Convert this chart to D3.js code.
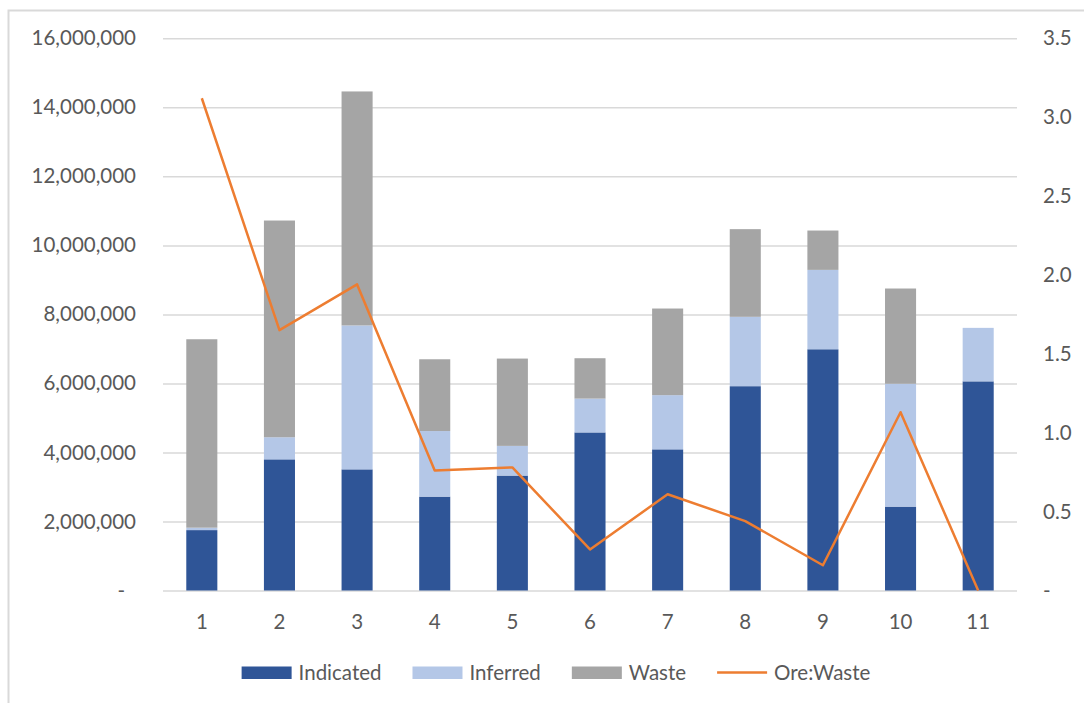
<!DOCTYPE html>
<html>
<head>
<meta charset="utf-8">
<script src="https://cdn.jsdelivr.net/npm/d3@7"></script>
<style>
  body { margin: 0; background: #fff; }
  svg text { font-family: Lato, "Liberation Sans", sans-serif; fill: #595959; }
</style>
</head>
<body>
<svg width="1084" height="703"></svg>
<script>
// Chart data
const categories = ["1", "2", "3", "4", "5", "6", "7", "8", "9", "10", "11"];
const indicated = [1750000, 3800000, 3510000, 2720000, 3330000, 4580000, 4090000, 5920000, 6990000, 2430000, 6060000];
const inferred = [70000, 640000, 4170000, 1900000, 860000, 980000, 1570000, 2010000, 2300000, 3560000, 1550000];
const waste = [5460000, 6280000, 6780000, 2080000, 2530000, 1170000, 2510000, 2540000, 1140000, 2760000, 0];
const oreWaste = [3.12, 1.65, 1.94, 0.76, 0.78, 0.26, 0.61, 0.44, 0.16, 1.13, 0];
const leftTicks = [0, 2000000, 4000000, 6000000, 8000000, 10000000, 12000000, 14000000, 16000000];
const rightTicks = [0, 0.5, 1.0, 1.5, 2.0, 2.5, 3.0, 3.5];

const svg = d3.select("svg");

// fixed layout values
const plotLeft = 163, plotRight = 1017, plotTop = 38.3, plotBottom = 590.5;
const colors = { Indicated: "#2F5597", Inferred: "#B4C7E7", Waste: "#A5A5A5", "Ore:Waste": "#ED7D31" };
const grid = "#D9D9D9";

// chart frame (only top and left edges are in view)
svg.append("path")
  .attr("d", "M8.5,703 L8.5,10.5 L1084,10.5")
  .attr("fill", "none")
  .attr("stroke", grid)
  .attr("stroke-width", 2);

// scales
const x = d3.scaleBand()
  .domain(categories)
  .range([plotLeft, plotRight])
  .paddingInner(0.6)
  .paddingOuter(0.3);

const y = d3.scaleLinear().domain([0, 16000000]).range([plotBottom, plotTop]);
const y2 = d3.scaleLinear().domain([0, 3.5]).range([plotBottom, plotTop]);

// left axis with gridlines
const yAxis = d3.axisLeft(y)
  .tickValues(leftTicks)
  .tickSize(-(plotRight - plotLeft))
  .tickPadding(27)
  .tickFormat(d => d === 0 ? "-" : d3.format(",")(d));

const gy = svg.append("g")
  .attr("transform", `translate(${plotLeft},0)`)
  .call(yAxis);
gy.select(".domain").remove();
gy.selectAll(".tick line").attr("stroke", grid).attr("stroke-width", 1.5);
gy.selectAll(".tick text").attr("font-size", 20.5).attr("fill", "#595959");
gy.selectAll(".tick text").filter(d => d === 0).attr("dx", -11);

// right axis
const yAxis2 = d3.axisRight(y2)
  .tickValues(rightTicks)
  .tickSize(0)
  .tickPadding(26)
  .tickFormat(d => d === 0 ? "-" : d3.format(".1f")(d));

const gy2 = svg.append("g")
  .attr("transform", `translate(${plotRight},0)`)
  .call(yAxis2);
gy2.select(".domain").remove();
gy2.selectAll(".tick text").attr("font-size", 20.5).attr("fill", "#595959");

// stacked bars
const rows = categories.map((c, i) => ({ cat: c, Indicated: indicated[i], Inferred: inferred[i], Waste: waste[i] }));
const keys = ["Indicated", "Inferred", "Waste"];
const stacked = d3.stack().keys(keys)(rows);

svg.append("g")
  .selectAll("g")
  .data(stacked)
  .join("g")
  .attr("fill", d => colors[d.key])
  .selectAll("rect")
  .data(d => d)
  .join("rect")
  .attr("x", d => x(d.data.cat))
  .attr("width", x.bandwidth())
  .attr("y", d => y(d[1]))
  .attr("height", d => y(d[0]) - y(d[1]));

// x axis labels
const xAxis = d3.axisBottom(x).tickSize(0).tickPadding(0);
const gx = svg.append("g")
  .attr("transform", `translate(0,${plotBottom})`)
  .call(xAxis);
gx.select(".domain").remove();
gx.selectAll(".tick text")
  .attr("font-size", 20.5)
  .attr("fill", "#595959")
  .attr("y", 31.5)
  .attr("dy", "0.35em");

// ore:waste line
const line = d3.line()
  .x((d, i) => x(categories[i]) + x.bandwidth() / 2)
  .y(d => y2(d));

svg.append("path")
  .datum(oreWaste)
  .attr("fill", "none")
  .attr("stroke", colors["Ore:Waste"])
  .attr("stroke-width", 2.5)
  .attr("stroke-linejoin", "round")
  .attr("d", line);

// legend
const legendItems = ["Indicated", "Inferred", "Waste", "Ore:Waste"];
const legend = svg.append("g");
let lx = 0;
legendItems.forEach(name => {
  const item = legend.append("g").attr("transform", `translate(${lx},0)`);
  if (name === "Ore:Waste") {
    item.append("line")
      .attr("x1", 0).attr("x2", 50)
      .attr("y1", 0).attr("y2", 0)
      .attr("stroke", colors[name])
      .attr("stroke-width", 2.5);
  } else {
    item.append("rect")
      .attr("x", 0).attr("y", -6)
      .attr("width", 50).attr("height", 12.5)
      .attr("fill", colors[name]);
  }
  const t = item.append("text")
    .attr("x", 57)
    .attr("dy", "0.35em")
    .attr("font-size", 20.5)
    .text(name);
  lx += 57 + t.node().getComputedTextLength() + 31;
});
const legendWidth = lx - 31;
legend.attr("transform", `translate(${556 - legendWidth / 2},672.5)`);
</script>
</body>
</html>
